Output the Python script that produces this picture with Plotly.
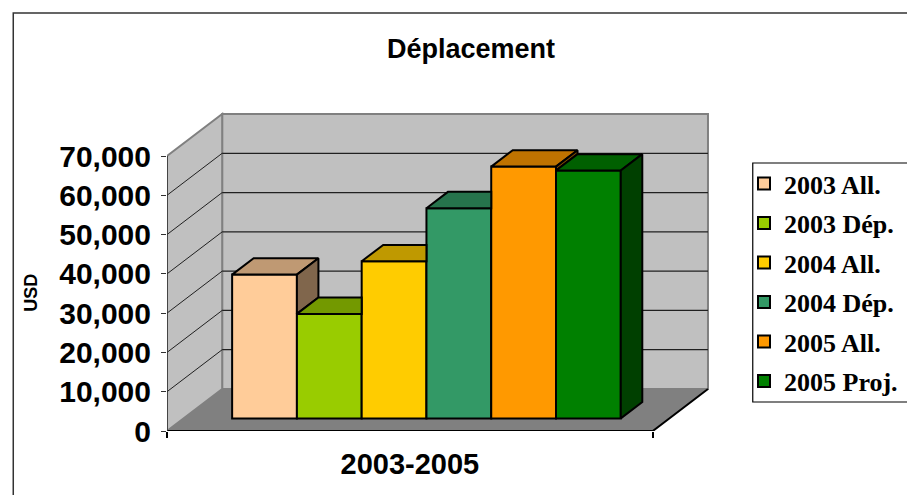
import plotly.graph_objects as go

# ---------------- data ----------------
SERIES = ["2003 All.", "2003 Dép.", "2004 All.", "2004 Dép.", "2005 All.", "2005 Proj."]
VALUES = [36600, 26600, 40000, 53500, 64100, 63100]
COLORS = ["#FFCC99", "#99CC00", "#FFCC00", "#339966", "#FF9900", "#008000"]
CATEGORY = "2003-2005"
Y_TICKS = [0, 10000, 20000, 30000, 40000, 50000, 60000, 70000]
TITLE = "Déplacement"
Y_TITLE = "USD"

# ---------------- geometry / style ----------------
OFF = 8                                       # page body margin
W, H = 915, 495                               # viewport
FW, FH = W - OFF, H - OFF                     # figure size
PL, PR, PT, PB = 167, 760, 100, 431           # plot area in viewport pixels
PX_PER_X = 66.57
PX_PER_Y = 275 / 70000
X0 = -1.25
X1 = len(VALUES) - 0.5 + 0.75
XR = [X0, X0 + (PR - PL) / PX_PER_X]
YR = [0, (PB - PT) / PX_PER_Y]
DX = 56.7 / PX_PER_X
DY = 42.0 / PX_PER_Y
F0, F1 = 0.30, 0.69
YMAX = Y_TICKS[-1]


def shade(hexc, k):
    h = hexc.lstrip("#")
    r, g, b = (int(h[i:i + 2], 16) for i in (0, 2, 4))
    return "rgb(%d,%d,%d)" % (round(r * k), round(g * k), round(b * k))


def px2paper_x(px):
    return (px - PL) / (PR - PL)


def px2paper_y(py):
    return (PB - py) / (PB - PT)


fig = go.Figure()

# front faces: real bars
base = F0 * DY
for i, (name, v, c) in enumerate(zip(SERIES, VALUES, COLORS)):
    fig.add_trace(go.Bar(
        x=[i + F0 * DX], y=[v], base=[base], width=[1], name=name,
        marker=dict(color=c, line=dict(color="black", width=2)),
        hoverinfo="skip", legendgroup=name,
    ))

# top and side faces (visible parts), left to right
bdx, bdy = (F1 - F0) * DX, (F1 - F0) * DY
slope = bdy / bdx
for i, (v, c) in enumerate(zip(VALUES, COLORS)):
    xf0 = i - 0.5 + F0 * DX
    xf1 = i + 0.5 + F0 * DX
    t = base + v
    tj = base + VALUES[i + 1] if i + 1 < len(VALUES) else None
    if tj is None or tj <= t:
        xs = [xf0, xf1, xf1 + bdx, xf0 + bdx, xf0]
        ys = [t, t, t + bdy, t + bdy, t]
    elif tj >= t + bdy:
        xs = [xf0, xf1, xf1, xf0 + bdx, xf0]
        ys = [t, t, t + bdy, t + bdy, t]
    else:
        xs = [xf0, xf1, xf1, xf1 + (tj - t) / slope, xf1 + bdx, xf0 + bdx, xf0]
        ys = [t, t, tj, tj, t + bdy, t + bdy, t]
    fig.add_trace(go.Scatter(x=xs, y=ys, mode="lines", fill="toself",
                             fillcolor=shade(c, 0.75),
                             line=dict(color="black", width=2),
                             hoverinfo="skip", showlegend=False))
    lo = base if tj is None else max(base, tj)
    if lo < t:
        xs = [xf1, xf1 + bdx, xf1 + bdx, xf1, xf1]
        ys = [lo, lo + bdy, t + bdy, t, lo]
        fig.add_trace(go.Scatter(x=xs, y=ys, mode="lines", fill="toself",
                                 fillcolor=shade(c, 0.5),
                                 line=dict(color="black", width=2),
                                 hoverinfo="skip", showlegend=False))

shapes = []
# floor
shapes.append(dict(type="path", xref="x", yref="y", layer="below",
                   path=f"M{X0},0 L{X1},0 L{X1+DX},{DY} L{X0+DX},{DY} Z",
                   fillcolor="#808080", line=dict(width=0)))
# back wall
shapes.append(dict(type="rect", xref="x", yref="y", layer="below",
                   x0=X0 + DX, x1=X1 + DX, y0=DY, y1=DY + YMAX,
                   fillcolor="#C0C0C0", line=dict(color="#808080", width=2)))
# side wall
shapes.append(dict(type="path", xref="x", yref="y", layer="below",
                   path=f"M{X0},0 L{X0+DX},{DY} L{X0+DX},{DY+YMAX} L{X0},{YMAX} Z",
                   fillcolor="#C0C0C0", line=dict(color="#808080", width=2)))
# gridlines on walls
for v in Y_TICKS[1:-1]:
    shapes.append(dict(type="line", xref="x", yref="y", layer="below",
                       x0=X0 + DX, x1=X1 + DX, y0=DY + v, y1=DY + v,
                       line=dict(color="#202020", width=1.3)))
    shapes.append(dict(type="line", xref="x", yref="y", layer="below",
                       x0=X0, x1=X0 + DX, y0=v, y1=DY + v,
                       line=dict(color="#202020", width=1)))
# floor front / right edges
shapes.append(dict(type="path", xref="x", yref="y", layer="below",
                   path=f"M{X0},0 L{X1},0 L{X1+DX},{DY}",
                   line=dict(color="black", width=2)))
# value axis line
shapes.append(dict(type="line", xref="x", yref="y", layer="below",
                   x0=X0, x1=X0, y0=0, y1=YMAX,
                   line=dict(color="#303030", width=1.5)))
# chart border
shapes.append(dict(type="rect", xref="paper", yref="paper", layer="above",
                   x0=px2paper_x(9), x1=px2paper_x(940),
                   y0=px2paper_y(520), y1=px2paper_y(13),
                   line=dict(color="#333333", width=1.5), fillcolor="rgba(0,0,0,0)"))
# legend border
shapes.append(dict(type="rect", xref="paper", yref="paper", layer="above",
                   x0=px2paper_x(769), x1=px2paper_x(940),
                   y0=px2paper_y(402), y1=px2paper_y(163),
                   line=dict(color="black", width=1.2), fillcolor="rgba(0,0,0,0)"))

fig.update_layout(
    width=FW, height=FH,
    margin=dict(l=PL - OFF, r=FW - (PR - OFF), t=PT - OFF, b=FH - (PB - OFF), pad=0),
    paper_bgcolor="white", plot_bgcolor="rgba(0,0,0,0)",
    barmode="overlay", shapes=shapes,
    title=dict(text=TITLE, x=(471 - OFF) / FW, y=1 - (49 - OFF) / FH,
               xref="container", yref="container",
               xanchor="center", yanchor="middle",
               font=dict(family="Liberation Sans, Arial", size=27, color="black", weight="bold")),
    xaxis=dict(range=XR, showgrid=False, zeroline=False, showline=False,
               tickvals=[(X0 + X1) / 2], ticktext=[CATEGORY], ticks="",
               ticklabelstandoff=13,
               tickfont=dict(family="Liberation Sans, Arial", size=29, color="black", weight="bold"),
               minor=dict(tickvals=[X0, X1], ticks="outside", ticklen=6,
                          tickcolor="black", tickwidth=1.5)),
    yaxis=dict(range=YR, showgrid=False, zeroline=False, showline=False,
               tickvals=Y_TICKS, tickformat=",", ticks="outside", ticklen=5,
               tickcolor="#303030", tickwidth=1.2, ticklabelstandoff=4,
               tickfont=dict(family="Liberation Sans, Arial", size=30, color="black", weight="bold")),
    legend=dict(x=px2paper_x(760), y=px2paper_y(160), xanchor="left", yanchor="top",
                bgcolor="rgba(0,0,0,0)", borderwidth=0, traceorder="grouped",
                tracegroupgap=2.7, itemclick=False,
                font=dict(family="Liberation Serif, Times New Roman", size=26,
                          color="black", weight="bold")),
    annotations=[dict(text=Y_TITLE, xref="paper", yref="paper",
                      x=px2paper_x(27), y=px2paper_y(293), showarrow=False,
                      textangle=-90, xanchor="center", yanchor="middle",
                      font=dict(family="Liberation Sans, Arial", size=18,
                                color="black", weight="bold"))],
)

fig.write_html("out.html")
